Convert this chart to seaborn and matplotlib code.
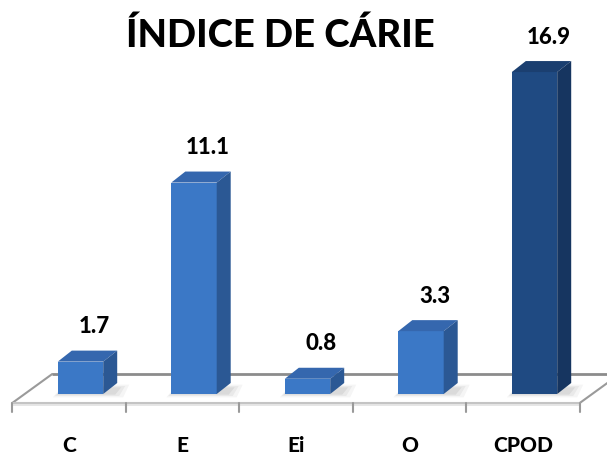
import matplotlib
matplotlib.use("Agg")
import matplotlib.pyplot as plt
from matplotlib.patches import Polygon
import seaborn as sns

# data
categories = ["C", "E", "Ei", "O", "CPOD"]
values = [1.7, 11.1, 0.8, 3.3, 16.9]
title = "ÍNDICE DE CÁRIE"

# colours: front / top / side of each bar
front_cols = ["#3b78c6", "#3b78c6", "#3b78c6", "#3b78c6", "#1f4a82"]
top_cols = ["#3567ae", "#3567ae", "#3567ae", "#3567ae", "#1b3f70"]
side_cols = ["#2b5894", "#2b5894", "#2b5894", "#2b5894", "#163560"]

sns.set_style("white")
plt.rcParams["font.family"] = ["Lato", "DejaVu Sans"]

W, H = 607, 456
fig = plt.figure(figsize=(W / 100, H / 100), dpi=100)
fig.patch.set_facecolor("white")

# axes box placed so that one category slot is ~113.5 px and one unit ~19 px
px_x = 113.5
px_y = 19.05
ymax = 17
left_px = 80.5 - 0.5 * px_x
base_px = 395
ax = fig.add_axes([left_px / W, (H - base_px) / H,
                   5 * px_x / W, ymax * px_y / H])


def dxp(p):
    return p / px_x


def dyp(p):
    return p / px_y


# front faces through seaborn
sns.barplot(x=categories, y=values, hue=categories, palette=front_cols,
            saturation=1, legend=False, width=0.4, ax=ax, zorder=3,
            edgecolor="none")
ax.set_xlim(-0.5, 4.5)
ax.set_ylim(0, ymax)
ax.axis("off")

# floor (3D plane with front edge, back edge and slot ticks)
fx0, fx1 = -0.5 - dxp(11.5), 4.5 - dxp(11.5)
fy = -dyp(9)
bx, by = dxp(40), dyp(29)
floor = Polygon([(fx0, fy), (fx1, fy), (fx1 + bx, fy + by), (fx0 + bx, fy + by)],
                closed=True, facecolor="white", edgecolor="none", clip_on=False, zorder=0)
ax.add_patch(floor)
slab = Polygon([(fx0, fy), (fx1, fy), (fx1, fy - dyp(3)), (fx0, fy - dyp(3))],
               closed=True, facecolor="#e6e6e6", edgecolor="none", clip_on=False, zorder=0)
ax.add_patch(slab)
ax.plot([fx0 + bx, fx1 + bx], [fy + by, fy + by], color="#8c8c8c", lw=2,
        clip_on=False, zorder=0.5, solid_capstyle="butt")
ax.plot([fx0, fx0 + bx], [fy, fy + by], color="#9a9a9a", lw=1.5, clip_on=False, zorder=0.5)
ax.plot([fx1, fx1 + bx], [fy, fy + by], color="#9a9a9a", lw=1.5, clip_on=False, zorder=0.5)
ax.plot([fx0, fx1], [fy, fy], color="#c4c4c4", lw=1.5, clip_on=False, zorder=0.5)
for k in range(len(categories) + 1):
    tx = fx0 + k
    ax.plot([tx, tx], [fy, fy - dyp(9)], color="#9a9a9a", lw=1.5, clip_on=False, zorder=0.5)

bars = sorted([b for cont in ax.containers for b in cont], key=lambda b: b.get_x())

ddx, ddy = dxp(14), dyp(11)
for i, bar in enumerate(bars):
    x0 = bar.get_x()
    x1 = x0 + bar.get_width()
    h = bar.get_height()
    bar.set_clip_on(False)
    # soft shadow on the floor, a few faint layers
    for grow, a in [(10, 0.08), (6, 0.10), (2, 0.14)]:
        sh = Polygon([(x0 - dxp(grow / 2), -dyp(grow / 3)),
                      (x1 + dxp(10 + grow), -dyp(grow / 3)),
                      (x1 + dxp(16 + grow), dyp(6 + grow / 3)),
                      (x0 + dxp(6), dyp(6 + grow / 3))],
                     closed=True, facecolor="#808080", alpha=a,
                     edgecolor="none", clip_on=False, zorder=1)
        ax.add_patch(sh)
    top = Polygon([(x0, h), (x1, h), (x1 + ddx, h + ddy), (x0 + ddx, h + ddy)],
                  closed=True, facecolor=top_cols[i], edgecolor="none",
                  clip_on=False, zorder=3)
    side = Polygon([(x1, 0), (x1 + ddx, ddy), (x1 + ddx, h + ddy), (x1, h)],
                   closed=True, facecolor=side_cols[i], edgecolor="none",
                   clip_on=False, zorder=3)
    ax.add_patch(top)
    ax.add_patch(side)
    ax.annotate(f"{values[i]:.1f}", ((x0 + x1) / 2, h), xytext=(14, 36),
                textcoords="offset pixels", ha="center", va="center",
                fontsize=16, fontweight="black", color="black", annotation_clip=False)

# category labels under the floor slots
for i, c in enumerate(categories):
    ax.text(i - dxp(11.5), -dyp(51), c, ha="center", va="center",
            fontsize=15, fontweight="black", color="black", clip_on=False)

fig.text(280.5 / W, 1 - 35 / H, title, ha="center", va="center",
         fontsize=27.5, fontweight="black", color="black")

fig.savefig("out.png", dpi=100, facecolor="white")
